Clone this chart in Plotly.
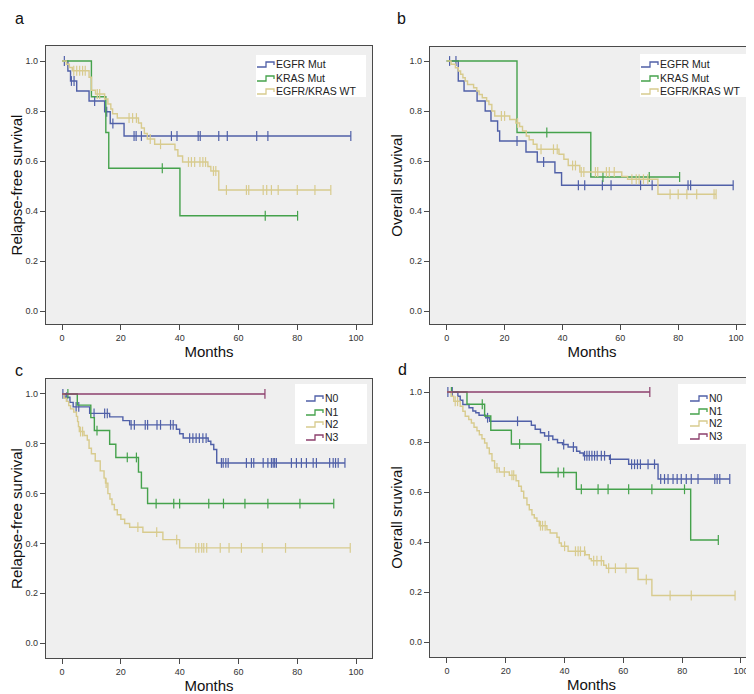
import plotly.graph_objects as go

# ---------------- data ----------------
mut_labels = ["EGFR Mut", "KRAS Mut", "EGFR/KRAS WT"]
n_labels = ["N0", "N1", "N2", "N3"]

# Panel a: relapse-free survival by mutation status
a_egfr_t = [2, 2.9, 5, 9.2, 14.5, 16.4, 21.1]
a_egfr_s = [0.96, 0.92, 0.88, 0.84, 0.797, 0.75, 0.70]
a_egfr_c = [0.8, 3.2, 4.1, 11.1, 15.2, 17.3, 24.5, 25.2, 27, 37.2, 39.1, 46.3, 47, 53.3, 56.2, 66.2, 70, 98.2]
a_kras_t = [10, 14.9, 15.9, 40.1]
a_kras_s = [0.857, 0.714, 0.571, 0.381]
a_kras_c = [34.1, 69.1, 80.1]
a_wt_t = [1.5, 2.5, 3.5, 9.2, 10, 11.4, 14.5, 15.6, 16.6, 17.2, 18.8, 26, 27, 28, 29, 31.5, 38.4, 39.4, 41, 49.6, 50.6, 53.3]
a_wt_s = [0.987, 0.974, 0.961, 0.935, 0.883, 0.868, 0.848, 0.828, 0.808, 0.789, 0.772, 0.752, 0.732, 0.71, 0.688, 0.667, 0.645, 0.62, 0.596, 0.578, 0.56, 0.484]
a_wt_c = [4, 5, 6, 7, 7.9, 12, 12.8, 22.8, 24, 25.3, 30, 33.5, 43, 44, 45.1, 46.9, 47.9, 48.8, 51.5, 52.3,
          55.9, 62.7, 63.5, 68.4, 69.6, 71.2, 73.5, 80, 86, 91.4]

# Panel b: overall survival by mutation status
b_egfr_t = [4, 6, 10.5, 13.3, 15.3, 17.6, 18.3, 27.4, 31.3, 37.4, 39.7]
b_egfr_s = [0.92, 0.88, 0.84, 0.80, 0.76, 0.72, 0.68, 0.636, 0.596, 0.553, 0.503]
b_egfr_c = [1, 3.2, 24.3, 33.5, 45.5, 47.7, 53.8, 56.8, 67, 71, 83.4, 84.3, 99]
b_kras_t = [24.3, 49.8]
b_kras_s = [0.714, 0.536]
b_kras_c = [34.6, 54, 70, 80.5]
b_wt_t = [1.5, 3, 4, 4.8, 5.6, 6.4, 7.2, 9.3, 10.4, 11.2, 12.3, 13.8, 14.6, 15.6, 16.6, 21.8, 23.9, 25.2, 26.2,
          27.5, 28.5, 29.9, 31.2, 38.8, 40.5, 42, 46, 60.5, 62.5, 73]
b_wt_s = [0.987, 0.973, 0.96, 0.947, 0.933, 0.92, 0.906, 0.893, 0.88, 0.866, 0.853, 0.84, 0.826, 0.80, 0.78,
          0.766, 0.752, 0.738, 0.72, 0.70, 0.685, 0.667, 0.647, 0.627, 0.607, 0.582, 0.556, 0.538, 0.527, 0.467]
b_wt_c = [18.9, 20, 24.5, 32.6, 36.9, 38.2, 43.5, 44.5, 46.5, 47.4, 51.4, 52.2, 55.2, 56.2, 57.9, 64, 65.5,
          66.5, 68, 69.5, 77.2, 80, 83, 86.4, 92.4, 93.1]

# Panel c: relapse-free survival by N stage
c_n0_t = [1, 2.7, 3.8, 9.4, 16.2, 20.7, 23, 38.9, 40, 41.2, 49.7, 50.6, 51.6, 52.6]
c_n0_s = [0.987, 0.966, 0.948, 0.922, 0.908, 0.893, 0.876, 0.858, 0.84, 0.823, 0.81, 0.797, 0.777, 0.723]
c_n0_c = [0.3, 1.6, 4.8, 5.7, 10.9, 14.5, 15.4, 23.5, 24.6, 28.3, 29.1, 32.3, 33.5, 36.9, 37.8, 43.4, 44.5,
          45.6, 46.7, 47.9, 49, 54.2, 54.8, 55.7, 56.5, 62.7, 64.4, 65.2, 68.4, 70, 71.2, 71.8, 72.3, 72.9,
          78, 79.7, 81.4, 83.1, 85.4, 86.5, 91, 92.2, 93, 93.9, 96.2]
c_n1_t = [5.2, 9.8, 11, 16.2, 18.3, 26, 27, 29.1]
c_n1_s = [0.955, 0.905, 0.853, 0.798, 0.745, 0.686, 0.622, 0.56]
c_n1_c = [2, 11.9, 22.2, 25.3, 32, 38, 40, 49.9, 54.9, 62.2, 70, 80.9, 92.4]
c_n2_t = [0.7, 1.5, 2.3, 2.9, 4, 4.9, 5.3, 5.6, 5.9, 7.5, 8.6, 9.2, 10, 11.3, 13, 14.3, 14.8, 15.6, 16.3, 17,
          17.8, 18.8, 20, 21.3, 23, 27.5, 34.3, 40]
c_n2_s = [0.983, 0.97, 0.953, 0.94, 0.927, 0.91, 0.889, 0.869, 0.849, 0.833, 0.815, 0.782, 0.76, 0.731, 0.691,
          0.662, 0.642, 0.60, 0.578, 0.556, 0.535, 0.515, 0.497, 0.48, 0.465, 0.445, 0.415, 0.382]
c_n2_c = [6.3, 7, 15, 25.8, 32.2, 39, 45.5, 46.5, 47.5, 48.2, 49.2, 53.8, 56.8, 61, 68.1, 76, 98]
c_n3_t = []
c_n3_s = []
c_n3_c = [69]

# Panel d: overall survival by N stage
d_n0_t = [3.7, 4.5, 5.4, 7.5, 8.8, 9.8, 10.9, 13.2, 14.5, 28.7, 30, 31.8, 33.2, 36, 37.6, 39.3, 41.2, 44.1,
          45.2, 46.4, 55.3, 61.8, 71.8]
d_n0_s = [0.983, 0.967, 0.95, 0.937, 0.924, 0.917, 0.907, 0.897, 0.883, 0.867, 0.851, 0.837, 0.824, 0.81,
          0.797, 0.79, 0.78, 0.763, 0.756, 0.745, 0.731, 0.711, 0.652]
d_n0_c = [0.3, 1.8, 13.8, 24, 34.6, 39.7, 43, 46.8, 47.6, 48.4, 49.3, 50.2, 51.1, 52.5, 53.6, 55.6, 62.8,
          63.8, 64.8, 65.8, 68.4, 70.6, 72.7, 74, 75.2, 76.9, 78.3, 79.7, 81.4, 83.1, 85.4, 91.1, 91.9, 92.8, 96.2]
d_n1_t = [6.8, 12.8, 14.9, 21.9, 31.9, 44, 82.9]
d_n1_s = [0.951, 0.904, 0.847, 0.792, 0.678, 0.611, 0.408]
d_n1_c = [1.5, 12, 24.7, 37.8, 39.7, 45.7, 51.4, 54.8, 61.8, 69.7, 80.8, 92.3]
d_n2_t = [1.5, 2.3, 4.5, 5.4, 6.2, 7.4, 8.3, 9.2, 10.2, 11, 11.9, 12.8, 13.6, 14.4, 15.3, 16.2, 17.8, 21.2,
          23.5, 24.4, 25.3, 26.1, 27.2, 28, 28.9, 29.7, 30.6, 31.4, 34, 35.1, 37.4, 38.2, 38.9, 41.2, 47, 48.4,
          49.1, 53.3, 54.2, 65, 69.7]
d_n2_s = [0.983, 0.963, 0.943, 0.923, 0.903, 0.89, 0.876, 0.859, 0.845, 0.829, 0.813, 0.796, 0.776, 0.753,
          0.725, 0.696, 0.68, 0.667, 0.645, 0.623, 0.603, 0.576, 0.549, 0.529, 0.509, 0.496, 0.483, 0.465,
          0.449, 0.436, 0.419, 0.396, 0.383, 0.363, 0.349, 0.333, 0.325, 0.307, 0.295, 0.25, 0.186]
d_n2_c = [2.8, 3.6, 17, 19.5, 22.1, 22.7, 31.8, 32.5, 33.4, 40, 43.7, 44.6, 45.4, 46.8, 49.9, 51, 52.5, 55,
          57.3, 60.9, 67.8, 75.9, 83.1, 98]
d_n3_t = []
d_n3_s = []
d_n3_c = [69]

x_ticks = [0, 20, 40, 60, 80, 100]
y_ticks = [0.0, 0.2, 0.4, 0.6, 0.8, 1.0]

# ---------------- styling ----------------
BLUE = "#5060a8"
GREEN = "#45a24c"
TAN = "#d8cb8e"
PURPLE = "#8c3f6c"
FONT = "Liberation Sans, Arial, sans-serif"
W, H = 754, 694


def px(xp):
    return xp / W


def py(yp):
    return 1 - yp / H


def surv_at(t, s, c):
    v = 1.0
    for ti, si in zip(t, s):
        if ti <= c:
            v = si
    return v


fig = go.Figure()

panels = [
    # suffix, frame px (x0, x1, y0, y1), x range, y range, y title, label, label pos
    ("", (38, 364, 38, 316), [-5.44, 105.4], [-0.052, 1.06], "Relapse-free survival", "a", (11, 11),
     [(a_egfr_t, a_egfr_s, a_egfr_c, BLUE, mut_labels[0]),
      (a_kras_t, a_kras_s, a_kras_c, GREEN, mut_labels[1]),
      (a_wt_t, a_wt_s, a_wt_c, TAN, mut_labels[2])]),
    ("2", (422, 746, 39, 316), [-5.77, 106.2], [-0.052, 1.056], "Overall sruvival", "b", (393, 11),
     [(b_egfr_t, b_egfr_s, b_egfr_c, BLUE, mut_labels[0]),
      (b_kras_t, b_kras_s, b_kras_c, GREEN, mut_labels[1]),
      (b_wt_t, b_wt_s, b_wt_c, TAN, mut_labels[2])]),
    ("3", (38, 364, 371, 650), [-5.44, 105.4], [-0.06, 1.06], "Relapse-free survival", "c", (11, 362),
     [(c_n0_t, c_n0_s, c_n0_c, BLUE, n_labels[0]),
      (c_n1_t, c_n1_s, c_n1_c, GREEN, n_labels[1]),
      (c_n2_t, c_n2_s, c_n2_c, TAN, n_labels[2]),
      (c_n3_t, c_n3_s, c_n3_c, PURPLE, n_labels[3])]),
    ("4", (422, 745, 370, 649), [-5.78, 104.1], [-0.06, 1.056], "Overall sruvival", "d", (394, 361),
     [(d_n0_t, d_n0_s, d_n0_c, BLUE, n_labels[0]),
      (d_n1_t, d_n1_s, d_n1_c, GREEN, n_labels[1]),
      (d_n2_t, d_n2_s, d_n2_c, TAN, n_labels[2]),
      (d_n3_t, d_n3_s, d_n3_c, PURPLE, n_labels[3])]),
]

layout_axes = {}
annotations = []
shapes = []

for suf, (fx0, fx1, fy0, fy1), xr, yr, ytitle, lab, (lx, ly), series in panels:
    xa = "x" + suf
    ya = "y" + suf
    for t, s, c, color, name in series:
        end = max(t + c)
        xs = [0] + t + [end]
        ys = [1.0] + s + [s[-1] if s else 1.0]
        fig.add_trace(go.Scatter(x=xs, y=ys, mode="lines", line=dict(color=color, width=1.4, shape="hv"),
                                 name=name, showlegend=False, xaxis=xa, yaxis=ya, hoverinfo="skip"))
        fig.add_trace(go.Scatter(x=c, y=[surv_at(t, s, ci) for ci in c], mode="markers",
                                 marker=dict(symbol="line-ns-open", size=7, color=color,
                                             line=dict(color=color, width=1.2)),
                                 name=name + " censored", showlegend=False, xaxis=xa, yaxis=ya))
    common = dict(showline=True, mirror=True, linecolor="#4a4a4a", linewidth=1.2, ticks="outside",
                  ticklen=5, tickcolor="#4a4a4a", tickwidth=1, showgrid=False, zeroline=False,
                  tickfont=dict(family=FONT, size=9, color="#333333"))
    layout_axes["xaxis" + suf] = dict(common, domain=[px(fx0), px(fx1)], range=xr, anchor=ya,
                                      tickvals=x_ticks, ticktext=[str(v) for v in x_ticks],
                                      title=dict(text="Months", font=dict(family=FONT, size=15, color="#111"),
                                                 standoff=2))
    layout_axes["yaxis" + suf] = dict(common, domain=[py(fy1), py(fy0)], range=yr, anchor=xa,
                                      tickvals=y_ticks, ticktext=["%.1f" % v for v in y_ticks],
                                      title=dict(text=ytitle, font=dict(family=FONT, size=15, color="#111"),
                                                 standoff=3))
    annotations.append(dict(text=lab, x=px(lx), y=py(ly), xref="paper", yref="paper", showarrow=False,
                            font=dict(family=FONT, size=16, color="#111"), xanchor="center", yanchor="middle"))

# ---------------- hand-drawn legends (step symbols like the original) ----------------
legends = [
    ((248, 358, 47, 89), 249, [56, 70, 83], mut_labels, [BLUE, GREEN, TAN]),
    ((632, 743, 46, 89), 633, [56, 70, 83], mut_labels, [BLUE, GREEN, TAN]),
    ((287, 359, 376, 436), 298, [390, 404, 416, 429], n_labels, [BLUE, GREEN, TAN, PURPLE]),
    ((670, 740, 376, 436), 682, [390, 403, 415, 428], n_labels, [BLUE, GREEN, TAN, PURPLE]),
]
for (bx0, bx1, by0, by1), sx, ys, labels, colors in legends:
    shapes.append(dict(type="rect", xref="paper", yref="paper", x0=px(bx0), x1=px(bx1), y0=py(by1), y1=py(by0),
                       fillcolor="white", line=dict(width=0), layer="above"))
    for yy, name, col in zip(ys, labels, colors):
        path = "M {:.5f},{:.5f} L {:.5f},{:.5f} L {:.5f},{:.5f} L {:.5f},{:.5f} L {:.5f},{:.5f}".format(
            px(sx), py(yy + 3), px(sx + 9), py(yy + 3), px(sx + 9), py(yy - 2), px(sx + 17), py(yy - 2),
            px(sx + 17), py(yy + 1))
        shapes.append(dict(type="path", path=path, xref="paper", yref="paper",
                           line=dict(color=col, width=1.3), layer="above"))
        annotations.append(dict(text=name, x=px(sx + 17), y=py(yy), xref="paper", yref="paper",
                                showarrow=False, xanchor="left", yanchor="middle",
                                font=dict(family=FONT, size=10.5, color="#222")))

fig.update_layout(
    width=W, height=H,
    margin=dict(l=0, r=0, t=0, b=0),
    paper_bgcolor="white",
    plot_bgcolor="#efefef",
    showlegend=False,
    annotations=annotations,
    shapes=shapes,
    **layout_axes,
)

fig.write_html("out.html")
